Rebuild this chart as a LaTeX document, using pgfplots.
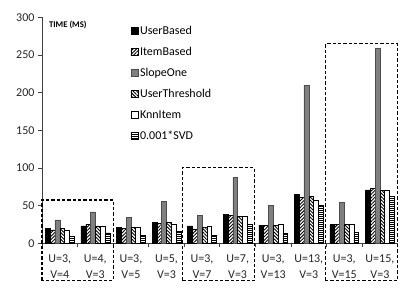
\documentclass[border=0pt]{standalone}
\usepackage{fontspec}
\setmainfont{Carlito}
\usepackage{pgfplots}
\usepackage{pgfplotstable}
\pgfplotsset{compat=1.18}
\usetikzlibrary{patterns.meta}

\pgfplotstableread{
x UB IB SO UT KI SVD
0 20 17.7 31 20 17.7 9.7
1 23 25 41.7 23 23 14
2 21 19.5 34 21 21 11
3 28 26 56 28 25 16
4 23 19 37 21 22 10.6
5 38 37 88 36 36 25.7
6 24 24 50 24 25 13
7 65 60.7 210 62 56.7 50
8 24.8 24.8 54.5 24.8 24.8 15
9 71 73 259 70 71 63
}\datatable

\begin{document}
\begin{tikzpicture}
\useasboundingbox (0,0) rectangle (415pt,294pt);
\begin{axis}[
  at={(42pt,50.7pt)}, anchor=south west,
  scale only axis, width=355.7pt, height=225.8pt,
  xmin=-0.5, xmax=9.5, ymin=0, ymax=300,
  ybar=0pt, bar width=4.8pt,
  axis x line=bottom, axis y line=left,
  axis line style={-, line width=0.8pt, black!75},
  tick style={line width=0.8pt, black!75},
  tick align=outside,
  ytick={0,50,...,300},
  xtick={0,...,9},
  major x tick style={draw=none},
  minor xtick={-0.5,0.5,...,9.5},
  minor tick length=4pt,
  major tick length=4pt,
  xticklabels={{U=3,\\V=4},{U=4,\\V=3},{U=3,\\V=5},{U=5,\\V=3},{U=3,\\V=7},{U=7,\\V=3},{U=3,\\V=13},{U=13,\\V=3},{U=3,\\V=15},{U=15,\\V=3}},
  xticklabel style={align=center, font=\fontsize{12}{15.5}\selectfont, text=black!85, yshift=-4pt},
  yticklabel style={font=\fontsize{12}{14}\selectfont, text=black!85},
  /pgf/number format/assume math mode=true,
  clip=false,
  legend style={draw=none, fill=none, at={(axis description cs:0.24,0.98)}, anchor=north west,
    font=\fontsize{12}{14}\selectfont, row sep=7.2pt, cells={anchor=west}},
  legend image code/.code={\draw[#1] (0pt,-3.5pt) rectangle (7pt,3.5pt);},
  every axis plot/.append style={draw=black, line width=0.5pt},
]
\addplot[fill=black] table[x=x,y=UB]{\datatable};
\addplot[pattern={Lines[angle=45,distance=2.4pt,line width=0.9pt]}] table[x=x,y=IB]{\datatable};
\addplot[fill=black!50, draw=black!70] table[x=x,y=SO]{\datatable};
\addplot[pattern={Lines[angle=-45,distance=2.4pt,line width=0.9pt]}] table[x=x,y=UT]{\datatable};
\addplot[fill=white] table[x=x,y=KI]{\datatable};
\addplot[pattern={Lines[angle=0,distance=2pt,line width=0.8pt]}] table[x=x,y=SVD]{\datatable};
\legend{UserBased,ItemBased,SlopeOne,UserThreshold,KnnItem,0.001*SVD}
\draw[dash pattern=on 3.3pt off 2pt, line width=1.1pt] (axis cs:-0.5,-49.7) rectangle (axis cs:1.5,57.5);
\draw[dash pattern=on 3.3pt off 2pt, line width=1.1pt] (axis cs:3.46,-49.7) rectangle (axis cs:5.47,100.5);
\draw[dash pattern=on 3.3pt off 2pt, line width=1.1pt] (axis cs:7.48,-49.7) rectangle (axis cs:9.5,265);
\node[anchor=west, font=\bfseries\fontsize{8.7}{10}\selectfont] at (axis description cs:0.01,0.965) {TIME (MS)};
\end{axis}
\end{tikzpicture}
\end{document}
